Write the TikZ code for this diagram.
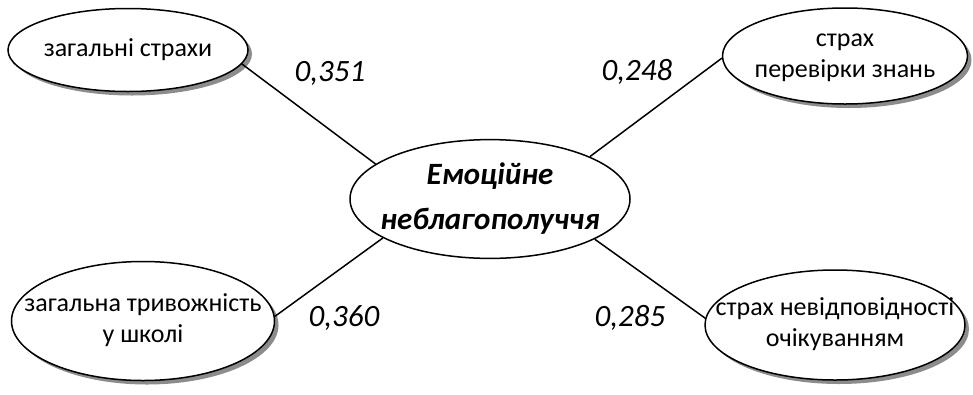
\documentclass[tikz,border=0pt]{standalone}
\usepackage{fontspec}
\setmainfont{Carlito}
\usetikzlibrary{shapes.geometric,shadows}
\newcommand\ovtext[1]{\makebox[0pt]{\begin{tabular}{@{}c@{}}#1\end{tabular}}}
\tikzset{
  factor/.style={ellipse,draw,line width=1.5pt,fill=white,inner sep=0pt,
                 font=\fontsize{26}{31}\selectfont,
                 drop shadow={shadow xshift=4pt,shadow yshift=-4pt,
                              fill=gray!90,opacity=1}},
  core/.style={ellipse,draw,line width=1.5pt,fill=white,inner sep=0pt,
               font=\fontsize{31}{39}\selectfont\bfseries\itshape},
  link/.style={line width=1.5pt},
  coef/.style={font=\fontsize{31}{36}\selectfont\itshape},
}
\begin{document}
\begin{tikzpicture}[x=1pt,y=-1pt]
  \useasboundingbox (0,0) rectangle (973,394);
  \node[core,minimum width=280pt,minimum height=102pt] (em) at (490,199)
    {\ovtext{Емоційне\\[6pt]неблагополуччя}};
  \node[factor,minimum width=240pt,minimum height=83pt] (gs) at (128,50)
    {\ovtext{загальні страхи}};
  \node[factor,minimum width=245pt,minimum height=96pt] (sz) at (845,56)
    {\ovtext{страх\\перевірки знань}};
  \node[factor,minimum width=263pt,minimum height=119pt] (tr) at (143,321)
    {\ovtext{загальна тривожність\\у школі}};
  \node[factor,minimum width=260pt,minimum height=110pt] (so) at (835,325)
    {\ovtext{страх невідповідності\\очікуванням}};
  \draw[link] (gs.-7) -- (em.163);
  \draw[link] (em.23) -- (sz.181);
  \draw[link] (tr.2) -- (em.200);
  \draw[link] (em.339) -- (so.177);
  \node[coef] (k1) at (330,73) {0,351};
  \node[coef] (k2) at (637,72) {0,248};
  \node[coef] (k3) at (344,318) {0,360};
  \node[coef] (k4) at (630,318) {0,285};
\end{tikzpicture}
\end{document}
